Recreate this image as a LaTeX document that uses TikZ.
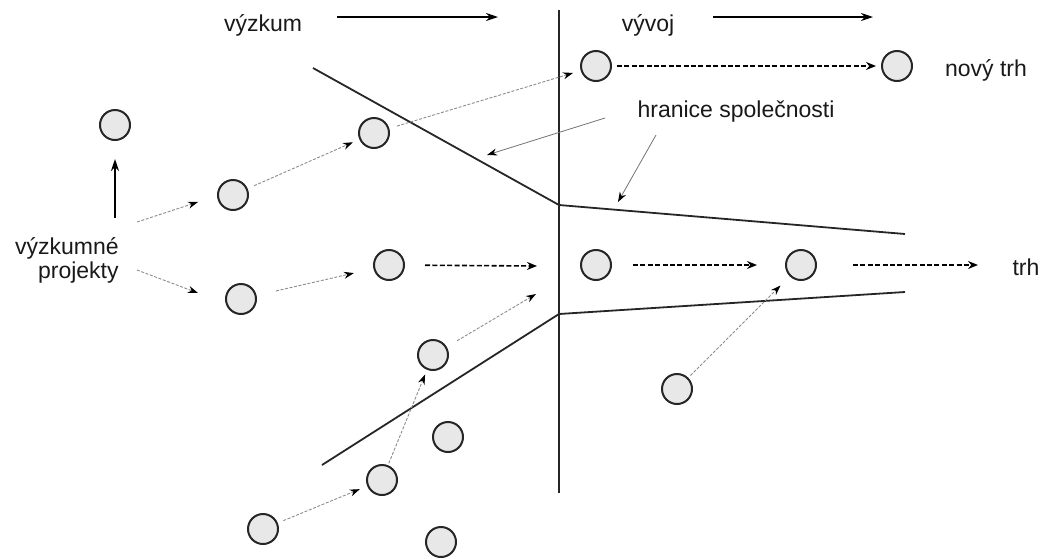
\documentclass[tikz,border=0pt]{standalone}
\usepackage{fontspec}
\setmainfont{Liberation Sans}
\usetikzlibrary{arrows.meta}
\begin{document}
\begin{tikzpicture}[x=0.5pt,y=-0.5pt,
  proj/.style={circle,draw=black!85,line width=1pt,fill=black!9,minimum size=15pt,inner sep=0pt},
  lbl/.style={font=\fontsize{11.5}{13.5}\selectfont,text=black!90,inner sep=0pt},
  bound/.style={line width=0.9pt,black!85},
  flow/.style={draw=black!45,line width=0.45pt,dash pattern=on 1.5pt off 0.8pt,-{Stealth[length=5pt,width=3.5pt,black]}},
  path/.style={draw=black,line width=0.8pt,dash pattern=on 2.5pt off 1.2pt,-{Stealth[length=5pt,width=4pt,open]}},
  phase/.style={draw=black,line width=0.8pt,-{Stealth[length=6pt,width=4pt]}},
  note/.style={draw=black!55,line width=0.4pt,-{Stealth[length=5pt,width=3.5pt,black]}}]
\useasboundingbox (0,0) rectangle (1045,558);

% boundaries
\coordinate (v1) at (559,10);
\coordinate (v2) at (559,493);
\coordinate (u1) at (313,68);
\coordinate (u2) at (559,205);
\coordinate (u3) at (905,234);
\coordinate (l1) at (322,465);
\coordinate (l2) at (559,314);
\coordinate (l3) at (905,292);
\draw[bound] (v1) -- (v2);
\draw[bound] (u1) -- (u2) -- (u3);
\draw[bound] (l1) -- (l2) -- (l3);

% labels
\node[lbl] (vyzkum) at (263,25) {výzkum};
\node[lbl] (vyvoj) at (648,25) {vývoj};
\node[lbl] (novytrh) at (986,70) {nový trh};
\node[lbl] (hranice) at (736,112) {hranice společnosti};
\node[lbl] (trh) at (1026,267) {trh};
\node[lbl,align=right,anchor=east] (vp) at (119,260) {výzkumné\\[-1.5pt]projekty};

% circles
\node[proj] (c1) at (115,125) {};
\node[proj] (c2) at (233,195) {};
\node[proj] (c3) at (374,133) {};
\node[proj] (c4) at (241,299) {};
\node[proj] (c5) at (389,265) {};
\node[proj] (c6) at (596,66) {};
\node[proj] (c7) at (897,66) {};
\node[proj] (c8) at (596,265) {};
\node[proj] (c9) at (801,265) {};
\node[proj] (c10) at (433,355) {};
\node[proj] (c11) at (677,389) {};
\node[proj] (c12) at (448,437) {};
\node[proj] (c13) at (382,480) {};
\node[proj] (c14) at (263,529) {};
\node[proj] (c15) at (441,542) {};

% phase arrows
\coordinate (ta1) at (337,17);
\coordinate (ta2) at (498,17);
\coordinate (tb1) at (713,17);
\coordinate (tb2) at (873,17);
\draw[phase] (ta1) -- (ta2);
\draw[phase] (tb1) -- (tb2);

% up arrow from label
\coordinate (pu) at (115,218);
\draw[phase,line width=0.9pt] (pu) -- (c1) [shorten >=9pt];

% label arrows
\coordinate (la1) at (137,222);
\coordinate (la2) at (198,202);
\coordinate (lb1) at (137,270);
\coordinate (lb2) at (198,293);
\draw[flow] (la1) -- (la2);
\draw[flow] (lb1) -- (lb2);

% flows between projects
\draw[flow,shorten <=3.5pt,shorten >=3.5pt] (c2) -- (c3);
\draw[flow,shorten <=4pt,shorten >=4pt] (c3) -- (c6);
\draw[flow,shorten <=10pt,shorten >=10pt] (c4) -- (c5);
\coordinate (c10e) at (536,294);
\draw[flow,shorten <=6pt] (c10) -- (c10e);
\draw[flow,shorten <=1pt,shorten >=2.5pt] (c13) -- (c10);
\draw[flow,shorten <=3pt,shorten >=4pt] (c14) -- (c13);
\draw[flow,shorten <=1.5pt,shorten >=6.5pt] (c11) -- (c9);

% development paths
\coordinate (c5e) at (537,266);
\draw[path,shorten <=10pt] (c5) -- (c5e);
\draw[path,shorten <=2.5pt,shorten >=2.5pt] (c6) -- (c7);
\draw[path,shorten <=10.5pt,shorten >=14pt] (c8) -- (c9);
\coordinate (trhe) at (978,265);
\draw[path,shorten <=18pt] (c9) -- (trhe);

% company boundary notes
\coordinate (h1s) at (605,118);
\coordinate (h1e) at (487,155);
\coordinate (h2s) at (656,135);
\coordinate (h2e) at (618,202);
\draw[note] (h1s) -- (h1e);
\draw[note] (h2s) -- (h2e);
\end{tikzpicture}
\end{document}
